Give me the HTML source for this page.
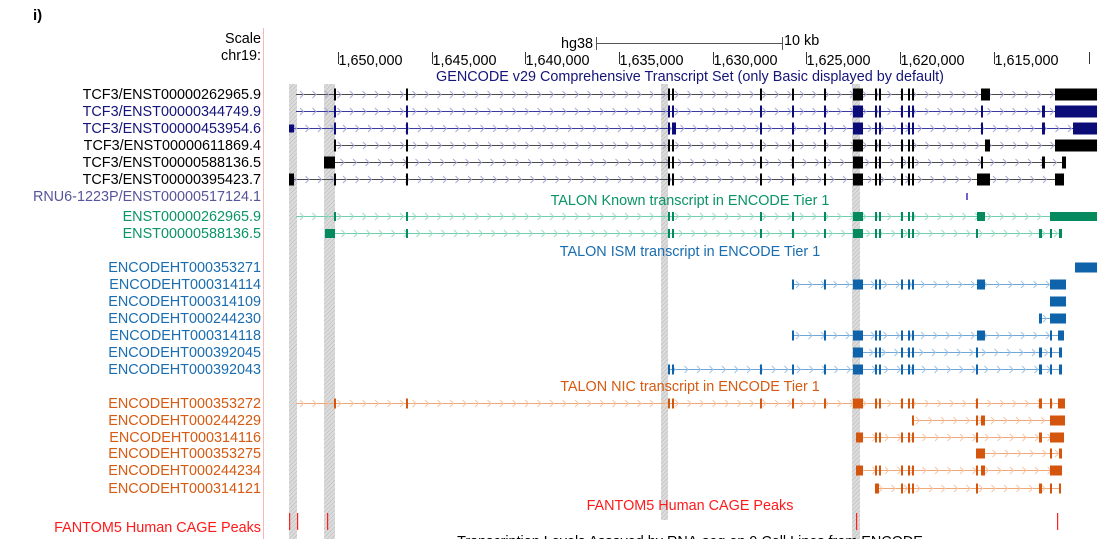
<!DOCTYPE html>
<html><head><meta charset="utf-8"><style>
body{margin:0;background:#fff;width:1111px;height:539px;overflow:hidden;font-family:"Liberation Sans",sans-serif;}
svg{display:block}
</style></head><body>
<svg id="c" width="1111" height="539" xmlns="http://www.w3.org/2000/svg">
<defs>
<pattern id="hatch" width="3" height="3" patternUnits="userSpaceOnUse" patternTransform="rotate(45)">
<rect width="3" height="3" fill="#dcdcdc"/><line x1="0" y1="0" x2="0" y2="3" stroke="#b4b4b4" stroke-width="1"/>
</pattern>
</defs>
<text x="33" y="20" font-size="15" font-weight="bold">i)</text>
<text x="760" y="-2" font-size="9" fill="#444">log(counts per million)</text>
<line x1="263.5" y1="28" x2="263.5" y2="539" stroke="#f3b8b8" stroke-width="1"/>
<text x="261" y="43" font-size="14.4" text-anchor="end">Scale</text>
<text x="261" y="60" font-size="14.4" text-anchor="end">chr19:</text>
<text x="593" y="48" font-size="14.4" text-anchor="end">hg38</text>
<g stroke="#555">
<line x1="596.5" y1="43.5" x2="782.5" y2="43.5"/><line x1="596.5" y1="37" x2="596.5" y2="50"/><line x1="782.5" y1="37" x2="782.5" y2="50"/>
</g>
<text x="784" y="45" font-size="14.4">10 kb</text>
<g id="axis"></g>
<g id="hl"></g>
<g id="tracks"></g>
<text x="690" y="81" font-size="14.4" text-anchor="middle" fill="#14147a">GENCODE v29 Comprehensive Transcript Set (only Basic displayed by default)</text>
<text x="690" y="205" font-size="14.4" text-anchor="middle" fill="#0a9467">TALON Known transcript in ENCODE Tier 1</text>
<text x="690" y="256" font-size="14.4" text-anchor="middle" fill="#1a6db0">TALON ISM transcript in ENCODE Tier 1</text>
<text x="690" y="391" font-size="14.4" text-anchor="middle" fill="#d65a10">TALON NIC transcript in ENCODE Tier 1</text>
<text x="690" y="510" font-size="14.4" text-anchor="middle" fill="#ff1a1a">FANTOM5 Human CAGE Peaks</text>
<text x="261" y="532" font-size="14.4" text-anchor="end" fill="#ff1a1a">FANTOM5 Human CAGE Peaks</text>
<text x="690" y="546" font-size="14.4" text-anchor="middle">Transcription Levels Assayed by RNA-seq on 9 Cell Lines from ENCODE</text>
</svg>
<script>
const axisTicks=[1650000,1645000,1640000,1635000,1630000,1625000,1620000,1615000];
const axisTickLabels=["1,650,000","1,645,000","1,640,000","1,635,000","1,630,000","1,625,000","1,620,000","1,615,000"];
const highlightRegions=[[1652616,1652189],[1650747,1650160],[1632755,1632381],[1622557,1622130]];
const cagePeaks=[1652616,1652189,1650587,1622344,1611612];
const trackRowY=[94,111,128,145,162,179,196, 216,233, 267,284,301,318,335,352,369, 403,420,437,453,470,488];
const rowNames=["TCF3/ENST00000262965.9","TCF3/ENST00000344749.9","TCF3/ENST00000453954.6","TCF3/ENST00000611869.4","TCF3/ENST00000588136.5","TCF3/ENST00000395423.7","RNU6-1223P/ENST00000517124.1",
"ENST00000262965.9","ENST00000588136.5",
"ENCODEHT000353271","ENCODEHT000314114","ENCODEHT000314109","ENCODEHT000244230","ENCODEHT000314118","ENCODEHT000392045","ENCODEHT000392043",
"ENCODEHT000353272","ENCODEHT000244229","ENCODEHT000314116","ENCODEHT000353275","ENCODEHT000244234","ENCODEHT000314121"];
const rowTrack=["g","n","n","g","g","g","r","k","k","b","b","b","b","b","b","b","o","o","o","o","o","o"];
const rowSpan=[[1652242,1609475],[1652242,1609475],[1652616,1609475],[1650214,1609475],[1650747,1611131],[1652616,1611238],[1616471,1616471],
[1652242,1609475],[1650694,1611345],
[1610650,1609475],[1625761,1611131],[1611986,1611131],[1612574,1611131],[1625761,1611238],[1622504,1611345],[1632381,1611345],
[1652242,1611185],[1619354,1611185],[1622344,1611238],[1615937,1611345],[1622344,1611345],[1621330,1611505]];
const core=[[1627470,1627470],[1625761,1625761],[1624053,1624053],[1622504,1621970],[1621330,1621330],[1621116,1621116],[1619941,1619941],[1619568,1619568],[1619354,1619354]];
const midHJ=[[1621330,1621330],[1621116,1621116],[1619941,1619941],[1619568,1619568],[1619354,1619354]];
const ABC=[[1650214,1650214],[1646370,1646370],[1632381,1632381],[1632168,1632168]];
const rowExons=[
ABC.concat(core,[[1615670,1615190],[1611719,1609475]]),
ABC.concat(core,[[1615670,1615670],[1612414,1612254],[1611719,1609475]]),
[[1652616,1652349],[1650214,1650214],[1646370,1646370],[1632381,1632381],[1632168,1631954]].concat(core,[[1615670,1615670],[1612414,1612254],[1610757,1609475]]),
ABC.concat(core,[[1615457,1615190],[1611719,1609475]]),
[[1650747,1650160],[1646370,1646370],[1632381,1632381],[1632168,1632168]].concat(core,[[1615670,1615670],[1612414,1612254],[1611345,1611131]]),
[[1652616,1652349]].concat(ABC,core,[[1615884,1615190],[1611719,1611238]]),
[[1616471,1616471]],
ABC.concat(core,[[1615884,1615457],[1611986,1609475]]),
[[1650694,1650160],[1646370,1646370],[1632381,1632381],[1632168,1632168]].concat(core,[[1615937,1615937],[1612574,1612414],[1611986,1611986],[1611505,1611345]]),
[[1610650,1609475]],
core.slice(1).concat([[1615884,1615457],[1611986,1611131]]),
[[1611986,1611131]],
[[1612574,1612414],[1611986,1611131]],
core.slice(1).concat([[1615884,1615457],[1611986,1611986],[1611559,1611238]]),
core.slice(3).concat([[1615937,1615937],[1612574,1612414],[1611986,1611986],[1611505,1611345]]),
[[1632381,1632381],[1632168,1632168]].concat(core,[[1615937,1615937],[1612574,1612414],[1611986,1611986],[1611505,1611345]]),
ABC.concat(core,[[1615937,1615937],[1612574,1612414],[1611986,1611986],[1611559,1611185]]),
[[1619354,1619354],[1615937,1615937],[1615670,1615457],[1611986,1611185]],
[[1622344,1621970]].concat(midHJ,[[1615937,1615937],[1612574,1612414],[1611986,1611238]]),
[[1615937,1615457],[1611986,1611986],[1611505,1611345]],
[[1622344,1621970]].concat(midHJ,[[1615937,1615937],[1615670,1615457],[1611986,1611345]]),
[[1621330,1621116],[1619941,1619941],[1619568,1619568],[1619354,1619354],[1615937,1615937],[1612574,1612414],[1611986,1611986],[1611505,1611505]]
];
const NS="http://www.w3.org/2000/svg";
function gx(g){return 338+(1650000-g)*0.01873;}
function mk(parent,tag,attrs){const e=document.createElementNS(NS,tag);for(const k in attrs)e.setAttribute(k,attrs[k]);parent.appendChild(e);return e;}
const trackStyle={g:{fill:"#000",line:"#4a4a4a",chev:"#a8a8d8",label:"#000",h:12},
n:{fill:"#0c0c78",line:"#3a3aa0",chev:"#a8a8d8",label:"#14147a",h:12},
r:{fill:"#7060d0",line:"#7060d0",chev:"#a8a8d8",label:"#55559a",h:7},
k:{fill:"#048a5e",line:"#6fcfaa",chev:"#9fdcc3",label:"#0a9467",h:9},
b:{fill:"#0e63aa",line:"#6fa6d6",chev:"#9fc4e6",label:"#1a6db0",h:10},
o:{fill:"#d4560e",line:"#f0a878",chev:"#f5c7a6",label:"#d65a10",h:10}};
const ax=document.getElementById('axis');
axisTicks.forEach((t,i)=>{const x=Math.round(gx(t))+0.5;
const l=mk(ax,'line',{x1:x,y1:52,x2:x,y2:64,stroke:'#333'});


const tx=mk(ax,'text',{x:x,y:65,'font-size':14.4});tx.textContent=axisTickLabels[i];

});
const endT=mk(ax,'line',{x1:1089.5,y1:52,x2:1089.5,y2:64,stroke:'#333'});


const hl=document.getElementById('hl');
highlightRegions.forEach((r,i)=>{const x1=gx(r[0]),x2=gx(r[1]);
const e=mk(hl,'rect',{x:x1,y:84,width:x2-x1,height:(i==2?436:455),fill:'url(#hatch)'});

});
const tr=document.getElementById('tracks');
rowNames.forEach((nm,i)=>{const s=trackStyle[rowTrack[i]];const y=trackRowY[i];
const g=mk(tr,'g',{});


const lb=mk(g,'text',{x:261,y:y+5,'font-size':14.4,'text-anchor':'end',fill:s.label});lb.textContent=nm;


const sp=rowSpan[i];const lx1=gx(sp[0]),lx2=gx(sp[1]);
if(lx2-lx1>3){const ln=mk(g,'line',{x1:lx1,y1:y+0.5,x2:lx2,y2:y+0.5,stroke:s.line,'stroke-width':1});


let d='';for(let x=lx1+6;x<lx2-4;x+=12.5){d+='M'+(x-2)+' '+(y-3)+'L'+(x+1.5)+' '+(y+0.5)+'L'+(x-2)+' '+(y+4);}
const ch=mk(g,'path',{d:d,fill:'none',stroke:s.chev,'stroke-width':1});

}
rowExons[i].forEach(ex=>{const x1=gx(ex[0]);const w=Math.max(2,gx(ex[1])-x1);
let h=s.h;if(rowTrack[i]=='n'&&i==2&&ex[0]>1652000)h=8;
const r=mk(g,'rect',{x:x1,y:y-h/2+0.5,width:w,height:h,fill:s.fill});

});
});
cagePeaks.forEach(p=>{const x=gx(p);
const r=mk(tr,'rect',{x:x,y:513,width:1.2,height:17,fill:'#ff2020'});

});
</script>
</body></html>
